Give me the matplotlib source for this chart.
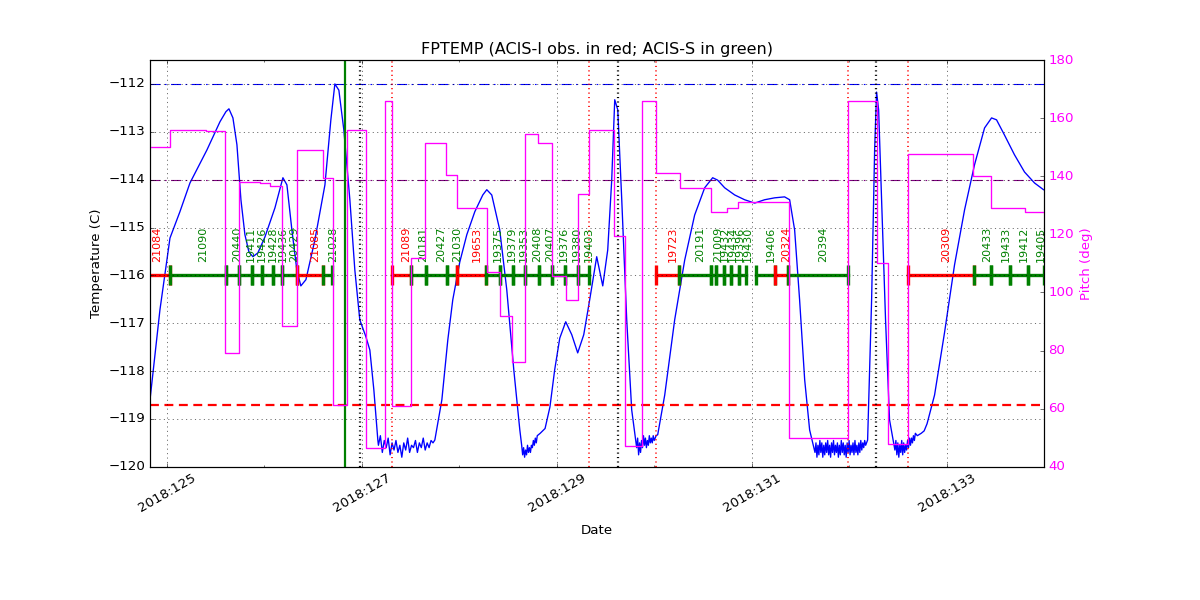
import matplotlib
matplotlib.use("Agg")
import matplotlib.pyplot as plt
from matplotlib.ticker import MultipleLocator

plt.style.use("classic")

# FPTEMP model (day of year 2018, deg C)
fptemp = [
    (124.826, -118.60), (124.928, -116.72), (125.031, -115.22), (125.133, -114.67),
    (125.236, -114.07), (125.410, -113.38), (125.544, -112.79), (125.605, -112.58),
    (125.636, -112.52), (125.677, -112.71), (125.718, -113.27), (125.759, -114.42),
    (125.800, -115.15), (125.841, -115.51), (125.882, -115.61), (125.933, -115.53),
    (126.005, -115.20), (126.108, -114.59), (126.190, -113.96), (126.231, -114.11),
    (126.282, -115.05), (126.333, -115.89), (126.374, -116.22), (126.426, -116.09),
    (126.518, -115.26), (126.621, -114.11), (126.682, -112.75), (126.723, -112.00),
    (126.764, -112.13), (126.815, -112.96), (126.877, -114.42), (126.928, -115.89),
    (126.979, -116.93), (127.041, -117.28), (127.082, -117.56), (127.123, -118.39),
    (127.164, -119.44),
    # cold plateau 1
    (127.17, -119.55), (127.19, -119.35), (127.21, -119.70), (127.23, -119.45),
    (127.25, -119.60), (127.27, -119.40), (127.29, -119.75), (127.31, -119.50),
    (127.33, -119.65), (127.35, -119.45), (127.37, -119.70), (127.39, -119.55),
    (127.41, -119.80), (127.43, -119.50), (127.45, -119.65), (127.47, -119.40),
    (127.49, -119.70), (127.51, -119.55), (127.53, -119.60), (127.55, -119.45),
    (127.57, -119.70), (127.59, -119.50), (127.61, -119.60), (127.63, -119.40),
    (127.65, -119.65), (127.67, -119.50), (127.69, -119.60), (127.71, -119.45),
    (127.73, -119.50),
    (127.749, -119.44), (127.821, -118.60), (127.882, -117.35), (127.933, -116.51),
    (128.005, -115.72), (128.077, -115.15), (128.159, -114.67), (128.241, -114.32),
    (128.282, -114.21), (128.333, -114.32), (128.415, -115.05), (128.487, -116.30),
    (128.559, -117.97), (128.621, -119.23),
    # cold plateau 2
    (128.64, -119.55), (128.65, -119.75), (128.66, -119.60), (128.67, -119.80),
    (128.68, -119.65), (128.69, -119.75), (128.70, -119.55), (128.71, -119.70),
    (128.72, -119.60), (128.73, -119.70), (128.74, -119.55), (128.75, -119.60),
    (128.76, -119.45), (128.77, -119.55), (128.78, -119.40), (128.79, -119.50),
    (128.80, -119.35),
    (128.83, -119.30), (128.88, -119.20), (128.93, -118.75), (128.979, -117.97),
    (129.031, -117.31), (129.092, -116.97), (129.154, -117.24), (129.215, -117.62),
    (129.277, -117.24), (129.338, -116.51), (129.410, -115.61), (129.472, -116.22),
    (129.523, -115.47), (129.564, -114.01), (129.595, -112.33), (129.626, -112.54),
    (129.667, -114.42), (129.718, -116.93), (129.769, -118.81),
    # cold plateau 3
    (129.82, -119.60), (129.83, -119.40), (129.84, -119.75), (129.85, -119.50),
    (129.86, -119.70), (129.87, -119.45), (129.88, -119.60), (129.89, -119.35),
    (129.90, -119.55), (129.91, -119.40), (129.92, -119.60), (129.93, -119.45),
    (129.94, -119.55), (129.95, -119.35), (129.96, -119.50), (129.97, -119.40),
    (129.98, -119.50), (129.99, -119.35), (130.00, -119.45), (130.02, -119.35),
    (130.036, -119.33), (130.108, -118.50), (130.210, -116.93), (130.313, -115.68),
    (130.415, -114.74), (130.518, -114.17), (130.600, -113.96), (130.651, -114.01),
    (130.723, -114.17), (130.826, -114.32), (130.928, -114.42), (131.031, -114.49),
    (131.133, -114.42), (131.236, -114.38), (131.338, -114.36), (131.390, -114.42),
    (131.441, -115.05), (131.492, -116.51), (131.544, -118.18), (131.595, -119.23),
    # cold plateau 4
    (131.65, -119.70), (131.66, -119.50), (131.67, -119.80), (131.68, -119.55),
    (131.69, -119.75), (131.70, -119.45), (131.71, -119.70), (131.72, -119.50),
    (131.73, -119.80), (131.74, -119.55), (131.75, -119.75), (131.76, -119.50),
    (131.77, -119.70), (131.78, -119.45), (131.79, -119.75), (131.80, -119.55),
    (131.81, -119.80), (131.82, -119.50), (131.83, -119.70), (131.84, -119.45),
    (131.85, -119.75), (131.86, -119.55), (131.87, -119.70), (131.88, -119.50),
    (131.89, -119.80), (131.90, -119.55), (131.91, -119.75), (131.92, -119.45),
    (131.93, -119.70), (131.94, -119.50), (131.95, -119.75), (131.96, -119.55),
    (131.97, -119.80), (131.98, -119.50), (131.99, -119.70), (132.00, -119.45),
    (132.01, -119.75), (132.02, -119.55), (132.03, -119.70), (132.04, -119.50),
    (132.05, -119.75), (132.06, -119.45), (132.07, -119.70), (132.08, -119.55),
    (132.09, -119.75), (132.10, -119.50), (132.11, -119.70), (132.12, -119.45),
    (132.13, -119.65), (132.14, -119.50), (132.15, -119.60), (132.16, -119.45),
    (132.17, -119.55),
    (132.190, -119.44), (132.231, -116.51), (132.262, -113.38), (132.282, -112.17),
    (132.303, -112.54), (132.333, -114.42), (132.374, -116.93), (132.415, -119.02),
    # cold plateau 5
    (132.47, -119.65), (132.48, -119.45), (132.49, -119.75), (132.50, -119.50),
    (132.51, -119.80), (132.52, -119.55), (132.53, -119.70), (132.54, -119.45),
    (132.55, -119.75), (132.56, -119.50), (132.57, -119.70), (132.58, -119.55),
    (132.59, -119.65), (132.60, -119.45), (132.61, -119.60), (132.62, -119.40),
    (132.63, -119.55), (132.64, -119.40), (132.65, -119.50), (132.66, -119.35),
    (132.67, -119.45), (132.68, -119.30), (132.70, -119.35),
    (132.74, -119.30), (132.77, -119.25), (132.80, -119.10), (132.877, -118.50),
    (132.979, -117.20), (133.082, -115.78), (133.185, -114.63), (133.287, -113.69),
    (133.390, -112.92), (133.462, -112.71), (133.513, -112.75), (133.595, -113.07),
    (133.697, -113.48), (133.800, -113.84), (133.903, -114.07), (133.995, -114.21),
]

# pitch (deg), value holds from this time until the next one
pitch_day = [124.826, 125.031, 125.400, 125.595, 125.738, 125.950, 126.060, 126.180,
             126.333, 126.600, 126.703, 126.846, 127.041, 127.236, 127.308, 127.503,
             127.646, 127.862, 127.974, 128.282, 128.415, 128.538, 128.672, 128.805,
             128.949, 129.092, 129.215, 129.328, 129.585, 129.697, 129.872, 130.015,
             130.262, 130.579, 130.744, 130.856, 131.379, 131.985, 132.282, 132.395,
             132.600, 133.267, 133.451, 133.810, 134.000]
pitch_deg = [150.0, 156.0, 155.6, 79.0, 138.0, 137.5, 136.6, 88.5,
             149.0, 139.4, 61.3, 156.0, 46.5, 166.0, 61.0, 112.0,
             151.5, 140.5, 129.0, 107.0, 92.0, 76.0, 154.5, 151.5,
             105.5, 97.4, 134.0, 156.0, 119.5, 47.0, 166.0, 141.0,
             136.0, 127.7, 129.0, 131.0, 50.0, 166.0, 110.0, 48.0,
             147.7, 140.0, 129.0, 127.7, 127.7]

# observations
obsid = ["21084", "21090", "20440", "19411", "19426", "19428", "19436", "20429",
         "21085", "21028", "21089", "20181", "20427", "21030", "19653", "19375",
         "19379", "19353", "20408", "20407", "19376", "19380", "19403", "19723",
         "20191", "21009", "19432", "19434", "19396", "19430", "19406", "20324",
         "20394", "20309", "20433", "19433", "19412", "19405"]
obs_inst = ["I", "S", "S", "S", "S", "S", "S", "S",
            "I", "S", "I", "S", "S", "S", "I", "S",
            "S", "S", "S", "S", "S", "S", "S", "I",
            "S", "S", "S", "S", "S", "S", "S", "I",
            "S", "I", "S", "S", "S", "S"]
obs_start = [124.662, 125.031, 125.602, 125.738, 125.875, 125.977, 126.084, 126.183,
             126.330, 126.603, 127.311, 127.503, 127.656, 127.869, 127.977, 128.279,
             128.415, 128.552, 128.679, 128.818, 128.952, 129.089, 129.218, 130.023,
             130.255, 130.580, 130.631, 130.716, 130.792, 130.870, 131.048, 131.236,
             131.372, 132.603, 133.277, 133.458, 133.653, 133.834]
obs_stop = [125.031, 125.602, 125.738, 125.875, 125.977, 126.084, 126.183, 126.330,
            126.603, 126.695, 127.503, 127.656, 127.869, 127.977, 128.279, 128.415,
            128.552, 128.679, 128.818, 128.952, 129.089, 129.218, 129.331, 130.255,
            130.580, 130.631, 130.716, 130.792, 130.870, 130.946, 131.236, 131.372,
            131.988, 133.277, 133.458, 133.653, 133.834, 134.000]

green_line = [126.826]
black_lines = [126.979, 129.626, 132.272]
red_lines = [127.308, 129.328, 130.015, 131.985, 132.600]

temp_limits = [(-112.0, "blue"), (-114.0, "purple")]
acis_i_limit = -118.7

major_days = [125, 127, 129, 131, 133]


fig, ax = plt.subplots(figsize=(15, 7.5), dpi=80)
fig.subplots_adjust(left=0.125, right=0.87, top=0.9, bottom=0.222)

days, temps = zip(*fptemp)
ax.plot(days, temps, color="blue", lw=1.2)

for val, col in temp_limits:
    ax.axhline(val, color=col, linestyle="-.", lw=1, dashes=(9, 4, 1.5, 4))
ax.axhline(acis_i_limit, color="red", linestyle="--", lw=2, dashes=(8, 5))

for d in green_line:
    ax.axvline(d, color="green", lw=2)
for d in black_lines:
    ax.axvline(d, color="black", linestyle=":", lw=2)
for d in red_lines:
    ax.axvline(d, color="red", linestyle=":", lw=1.5)

for name, inst, t0, t1 in zip(obsid, obs_inst, obs_start, obs_stop):
    col = "red" if inst == "I" else "green"
    ax.plot([t0, t1], [-116, -116], color=col, lw=3, marker="|", ms=18, mew=3)
    mid = 0.5 * (t0 + t1)
    ax.text(mid, -115.72, name, rotation=90, color=col, fontsize=10,
            ha="left", va="bottom", clip_on=True)

ax.set_xlim(124.826, 134.0)
ax.set_ylim(-120, -111.5)
ax.set_xticks(major_days)
ax.set_xticklabels(["2018:%d" % d for d in major_days], rotation=30, ha="center")
ax.xaxis.set_minor_locator(MultipleLocator(1))
ax.set_yticks(range(-120, -111))
ax.grid(True, color="black", linestyle=":", lw=0.5)
ax.set_xlabel("Date", labelpad=8)
ax.set_ylabel("Temperature (C)")
ax.set_title("FPTEMP (ACIS-I obs. in red; ACIS-S in green)")

ax2 = ax.twinx()
ax2.plot(pitch_day, pitch_deg, color="magenta", lw=1.2, drawstyle="steps-post")
ax2.set_ylim(40, 180)
ax2.set_xlim(124.826, 134.0)
ax2.set_ylabel("Pitch (deg)", color="magenta")
ax2.tick_params(axis="y", labelcolor="magenta")

fig.savefig("out.png", dpi=80, facecolor="white")
